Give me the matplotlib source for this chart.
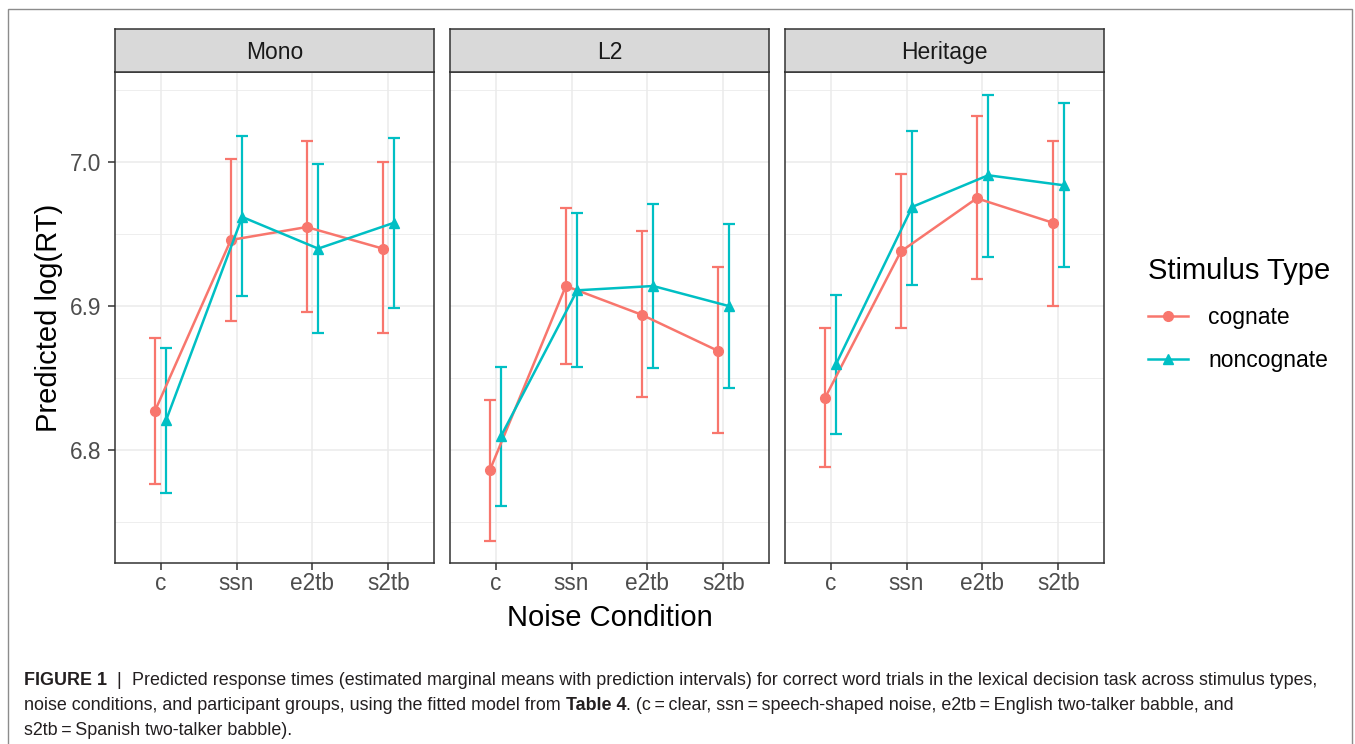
import matplotlib
matplotlib.use('Agg')
import numpy as np
import matplotlib.pyplot as plt
from matplotlib.lines import Line2D
from matplotlib.patches import Rectangle

plt.rcParams['font.family'] = ['Liberation Sans', 'DejaVu Sans']

# data
groups = ['Mono', 'L2', 'Heritage']
conditions = ['c', 'ssn', 'e2tb', 's2tb']

mono_cog = [6.827, 6.946, 6.955, 6.940]
mono_cog_lo = [6.776, 6.890, 6.896, 6.881]
mono_cog_hi = [6.878, 7.002, 7.015, 7.000]
mono_non = [6.821, 6.962, 6.940, 6.958]
mono_non_lo = [6.770, 6.907, 6.881, 6.899]
mono_non_hi = [6.871, 7.018, 6.999, 7.017]

l2_cog = [6.786, 6.914, 6.894, 6.869]
l2_cog_lo = [6.737, 6.860, 6.837, 6.812]
l2_cog_hi = [6.835, 6.968, 6.952, 6.927]
l2_non = [6.810, 6.911, 6.914, 6.900]
l2_non_lo = [6.761, 6.858, 6.857, 6.843]
l2_non_hi = [6.858, 6.965, 6.971, 6.957]

her_cog = [6.836, 6.938, 6.975, 6.958]
her_cog_lo = [6.788, 6.885, 6.919, 6.900]
her_cog_hi = [6.885, 6.992, 7.032, 7.015]
her_non = [6.860, 6.969, 6.991, 6.984]
her_non_lo = [6.811, 6.915, 6.934, 6.927]
her_non_hi = [6.908, 7.022, 7.047, 7.041]

cognate = [(mono_cog, mono_cog_lo, mono_cog_hi),
           (l2_cog, l2_cog_lo, l2_cog_hi),
           (her_cog, her_cog_lo, her_cog_hi)]
noncognate = [(mono_non, mono_non_lo, mono_non_hi),
              (l2_non, l2_non_lo, l2_non_hi),
              (her_non, her_non_lo, her_non_hi)]

COG = '#F8766D'
NON = '#00BFC4'

W, H = 1355, 744
fig = plt.figure(figsize=(W / 100, H / 100), dpi=100)

panel_left = [115, 450, 785]
panel_w = 319
panel_top, panel_bot, strip_top = 72, 563, 29

x = np.arange(len(conditions))
dodge = 0.075

for i, g in enumerate(groups):
    ax = fig.add_axes([panel_left[i] / W, 1 - panel_bot / H, panel_w / W, (panel_bot - panel_top) / H])
    sax = fig.add_axes([panel_left[i] / W, 1 - panel_top / H, panel_w / W, (panel_top - strip_top) / H])

    # series
    for (m, lo, hi), col, mk, off in [(cognate[i], COG, 'o', -dodge), (noncognate[i], NON, '^', dodge)]:
        m, lo, hi = np.array(m), np.array(lo), np.array(hi)
        ax.errorbar(x + off, m, yerr=[m - lo, hi - m], fmt='none', ecolor=col,
                    elinewidth=1.6, capsize=4.3, capthick=1.6, zorder=3)
        ax.plot(x + off, m, color=col, lw=1.8, marker=mk, ms=7.5 if mk == '^' else 7, zorder=4)

    ax.set_xlim(-0.6, 3.6)
    ax.set_ylim(6.7214, 7.0628)
    ax.set_xticks(x)
    ax.set_xticklabels(conditions)
    ax.set_yticks([6.8, 6.9, 7.0])
    ax.set_yticklabels(['6.8', '6.9', '7.0'])
    ax.set_yticks([6.75, 6.85, 6.95, 7.05], minor=True)
    ax.grid(which='major', color='#EBEBEB', lw=1.1, zorder=0)
    ax.grid(which='minor', axis='y', color='#EBEBEB', lw=0.6, zorder=0)
    ax.set_axisbelow(True)
    ax.tick_params(which='minor', length=0)
    ax.tick_params(which='major', length=5, width=1.1, color='#333333',
                   labelsize=16.3, labelcolor='#4D4D4D')
    ax.tick_params(axis='x', pad=1.7)
    ax.tick_params(axis='y', pad=5)
    if i > 0:
        ax.tick_params(axis='y', left=False, labelleft=False)
    for s in ax.spines.values():
        s.set_color('#333333')
        s.set_linewidth(1.1)

    # facet strip
    sax.set_facecolor('#D9D9D9')
    sax.set_xticks([])
    sax.set_yticks([])
    for s in sax.spines.values():
        s.set_color('#333333')
        s.set_linewidth(1.1)
    sax.text(0.5, 0.30, g, transform=sax.transAxes, ha='center', va='baseline',
             fontsize=16.5, color='#1A1A1A')

# axis titles
fig.text(609.5 / W, 1 - 626 / H, 'Noise Condition', ha='center', va='baseline', fontsize=21)
fig.text(49 / W, 1 - 317.5 / H, 'Predicted log(RT)', ha='center', va='center',
         rotation=90, fontsize=21)

# legend
handles = [Line2D([], [], color=COG, marker='o', lw=1.8, ms=7),
           Line2D([], [], color=NON, marker='^', lw=1.8, ms=7.5)]
fig.legend(handles, ['cognate', 'noncognate'], title='Stimulus Type',
           loc='upper left', bbox_to_anchor=(1148 / W, 1 - 257 / H), frameon=False,
           fontsize=16.5, title_fontsize=21, handlelength=1.75, handletextpad=0.88,
           labelspacing=0.9, alignment='left', borderaxespad=0, borderpad=0)

# outer frame
fig.add_artist(Rectangle((8.3 / W, -0.02), (1352 - 8.3) / W, 1.02 - 9.3 / H,
                         transform=fig.transFigure, fill=False, edgecolor='#8C8C8C', lw=1.0))

# caption
renderer = fig.canvas.get_renderer()
cap_size = 12.9
cap_col = '#231F20'


def write_line(parts, x0, y0):
    xp = x0
    for txt, wt in parts:
        t = fig.text(xp / W, 1 - y0 / H, txt, fontsize=cap_size, fontweight=wt,
                     color=cap_col, ha='left', va='baseline')
        xp += t.get_window_extent(renderer).width


write_line([('FIGURE 1', 'bold'), ('  |  ', 'normal'),
            ('Predicted response times (estimated marginal means with prediction intervals) '
             'for correct word trials in the lexical decision task across stimulus types,', 'normal')],
           24, 685)
write_line([('noise conditions, and participant groups, using the fitted model from ', 'normal'),
            ('Table 4', 'bold'),
            ('. (c\u2009=\u2009clear, ssn\u2009=\u2009speech-shaped noise, e2tb\u2009=\u2009English '
             'two-talker babble, and', 'normal')],
           24, 710)
write_line([('s2tb\u2009=\u2009Spanish two-talker babble).', 'normal')], 24, 735)

fig.savefig('out.png', dpi=100)
